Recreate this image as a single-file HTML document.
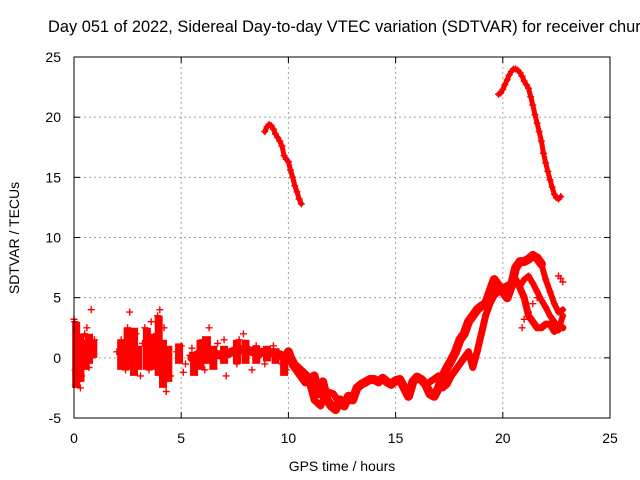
<!DOCTYPE html>
<html><head><meta charset="utf-8">
<style>
html,body{margin:0;padding:0;background:#fff;overflow:hidden;}
svg{display:block;font-family:"Liberation Sans",sans-serif;}
</style></head>
<body>
<svg id="chart" width="640" height="480" viewBox="0 0 640 480">
<text x="48" y="32" font-size="16.4" fill="#000">Day 051 of 2022, Sidereal Day-to-day VTEC variation (SDTVAR) for receiver churchill</text>
<g id="grid"></g>
<g id="ticks"></g>
<g id="marks"></g>
<rect x="74" y="57" width="536" height="361" fill="none" stroke="#000" stroke-width="1"/>
<text x="342" y="471" font-size="14" text-anchor="middle">GPS time / hours</text>
<text x="19" y="238" font-size="14" text-anchor="middle" transform="rotate(-90 19 238)">SDTVAR / TECUs</text>
</svg>
<script>
const xTicks=[0,5,10,15,20,25];
const yTicks=[-5,0,5,10,15,20,25];
const arc1T=[8.9,9.0,9.1,9.2,9.3,9.4,9.5,9.6,9.7,9.8,9.9,10.0,10.1,10.2,10.3,10.4,10.5,10.6];
const arc1V=[18.8,19.2,19.4,19.3,19.0,18.6,18.3,18.0,17.6,16.8,16.5,16.3,15.6,15.0,14.3,13.8,13.2,12.8];
const arc2T=[19.8,19.9,20.0,20.1,20.2,20.3,20.4,20.5,20.6,20.7,20.8,20.9,21.0,21.1,21.2,21.3,21.4,21.5,21.6,21.7,21.8,21.9,22.0,22.1,22.2,22.3,22.4,22.5,22.6,22.7];
const arc2V=[21.9,22.0,22.3,22.7,23.1,23.5,23.8,24.0,24.0,23.9,23.7,23.4,23.0,22.7,22.4,21.7,21.0,20.2,19.5,18.8,18.0,17.0,16.2,15.5,14.8,14.2,13.6,13.3,13.2,13.4];
const scatT=[0.0,0.03,0.05,0.15,0.25,0.35,0.45,0.55,0.65,0.75,0.85,0.95,0.6,0.8,0.3,0.5,0.2,0.4,0.7,0.9,
2.0,2.2,2.4,2.5,2.6,2.7,2.8,2.9,3.0,3.1,3.3,3.4,3.5,3.6,3.7,3.8,3.9,4.0,4.1,4.2,4.3,4.4,4.5,4.2,2.3,3.2,3.85,4.05,
4.8,5.0,5.2,5.4,5.6,5.8,6.0,6.1,6.2,6.3,6.5,6.7,6.9,7.1,7.3,7.5,7.7,7.9,8.1,8.3,8.5,8.7,8.9,9.1,9.3,9.5,9.7,9.9,5.1,5.5,6.4,7.0,7.6,8.0,8.6,9.0];
const scatV=[3.2,3.0,-1,-2,0,-1.5,1,-0.5,0.5,1.5,0,1.5,2.5,4,-2.5,2,-1,0.5,-0.8,1,
0.5,1.5,-1,2.5,3.8,1,-0.5,2,0,-1.5,2.5,0.5,-1,3,1.5,-0.5,3.5,4,1,-2,-2.8,0.5,-1.5,2.5,0,1.2,2,-1.2,
0.5,1,-0.5,0.2,-1,0.5,1.5,-1,0.5,2.5,-0.5,1.2,0,-1.5,0.5,0.8,1.5,2,0.5,-1,1,0.5,-0.5,0.5,1,0,-0.5,-1,-1.2,0.8,-0.2,1.5,-0.5,1.2,0,0.2];
const colT=[0.1,0.3,0.5,0.7,0.9,2.2,2.5,2.8,3.0,3.4,3.7,3.95,4.15,4.4,4.9,5.6,5.9,6.2,6.5,7.0,7.6,8.0,8.5,9.0,9.4,9.8];
const colLo=[-2.5,-2,-1,-0.5,0,-1,-1,-1.5,-1,-1,-1,-1.5,-2.5,-2,-0.5,-1.5,-1,-0.5,-1,-0.5,-0.5,-0.5,-0.5,-0.3,-0.5,-1.5];
const colHi=[3,2,1.5,2,1.5,1.5,2.5,2.5,1,2.5,2,3.5,1.5,1,1.2,0.5,1.5,1.8,1,1,1.5,1.5,1,1,0.8,0.5];
const s0T=[5.5,6.0,6.5,7.0,7.5,8.0,8.5,9.0,9.5,10.0];
const s0V=[0.0,0.5,0.3,0.2,0.6,0.7,0.4,0.5,0.3,0.0];
const s1T=[10.0,10.1,10.2,10.4,10.6,10.8,11.0,11.2,11.4,11.6,11.8,12.0,12.2,12.4,12.6,12.8,13.0,13.2,13.4,13.6,13.8,14.0,14.2,14.4,14.6,14.8,15.0,15.2,15.4,15.6,15.8,16.0,16.2,16.4,16.6,16.8,17.0,17.2,17.4,17.6,17.8,18.0,18.2,18.4,18.6,18.8,19.0,19.2,19.4,19.6,19.8,20.0,20.2,20.4,20.6,20.8,21.0,21.2,21.4,21.6,21.8];
const s1V=[0.5,0,-0.5,-1,-1.5,-2,-2,-1.5,-3,-2,-3.5,-4,-4.3,-3.5,-4,-3.2,-3.5,-2.5,-2.2,-2,-1.8,-1.8,-2.0,-1.7,-2,-2.2,-1.9,-1.8,-2.5,-3.2,-2.0,-1.6,-1.8,-2.2,-3,-3.2,-2.5,-1.5,-0.8,-0.2,0.5,1.5,2,3,3.5,4,4.3,4.5,5.5,6.5,6,5.5,5,6,7.5,8,8,8.2,8.5,8.3,7.8];
const s2T=[10.0,10.3,10.6,10.9,11.2,11.5,11.8,12.1,12.4];
const s2V=[0.5,-0.5,-1,-1.5,-3.5,-4,-2.8,-3,-3.8];
const s2bT=[16.6,17.0,17.2,17.4,17.6,17.8,18.0,18.2,18.4,18.6,18.8,19.0,19.2,19.4,19.6,19.8,20.0,20.2,20.4,20.6,20.8,21.0,21.2,21.4,21.6,21.8,22.0,22.2,22.4,22.6,22.8];
const s2bV=[-2.0,-1.5,-2.5,-2.2,-1.5,-1,-0.5,0,0.5,-0.8,0.5,2,3.5,4.5,5.2,5.5,5.8,6.0,6.2,6.5,5.8,5,3.5,3,2.5,2.5,2.8,2.8,2.2,2.5,2.5];
const s3T=[20.6,20.8,21.0,21.2,21.4,21.6,21.8,22.0,22.2,22.4,22.6,22.8];
const s3V=[6.5,6.0,6.5,6.8,6.2,5.5,4.8,4.2,3.5,3,2.3,3.5];
const s4T=[21.8,22.0,22.2,22.4,22.6,22.8];
const s4V=[7.8,6.5,5.5,4.5,3.8,4];
const s5T=[20.9,21.0,21.2,21.4,21.6,22.6,22.7,22.8];
const s5V=[2.5,3.2,3.8,4.5,5,6.8,6.6,6.3];

const X0=74,X1=610,Y0=418,Y1=57;
function sx(t){return X0+(t-0)/(25-0)*(X1-X0);}
function sy(v){return Y0-(v-(-5))/(25-(-5))*(Y0-Y1);}
const NS='http://www.w3.org/2000/svg';
const grid=document.getElementById('grid'),ticks=document.getElementById('ticks'),marks=document.getElementById('marks');
function mk(tag,attrs,parent){const e=document.createElementNS(NS,tag);for(const k in attrs)e.setAttribute(k,attrs[k]);parent.appendChild(e);return e;}
xTicks.forEach(t=>{
  const x=sx(t);
  if(t>0&&t<25){const g=mk('line',{x1:x,x2:x,y1:Y1,y2:Y0,stroke:'#a0a0a0','stroke-dasharray':'2,3','stroke-width':1},grid);
  
  }
  mk('line',{x1:x,x2:x,y1:Y0,y2:Y0-6,stroke:'#000'},ticks);
  mk('line',{x1:x,x2:x,y1:Y1,y2:Y1+6,stroke:'#000'},ticks);
  const l=mk('text',{x:x,y:Y0+25,'font-size':14,'text-anchor':'middle'},ticks);l.textContent=t;
  
  
});
yTicks.forEach(v=>{
  const y=sy(v);
  if(v>-5&&v<25){const g=mk('line',{x1:X0,x2:X1,y1:y,y2:y,stroke:'#a0a0a0','stroke-dasharray':'2,3','stroke-width':1},grid);
  
  }
  mk('line',{x1:X0,x2:X0+6,y1:y,y2:y,stroke:'#000'},ticks);
  mk('line',{x1:X1,x2:X1-6,y1:y,y2:y,stroke:'#000'},ticks);
  const l=mk('text',{x:X0-13,y:y+5,'font-size':14,'text-anchor':'end'},ticks);l.textContent=v;
  
  
});
function band(T,V,w,name){
  const pts=T.map((t,i)=>sx(t).toFixed(1)+','+sy(V[i]).toFixed(1)).join(' ');
  const p=mk('polyline',{points:pts,fill:'none',stroke:'#ff0000','stroke-width':w,'stroke-linejoin':'round','stroke-linecap':'round'},marks);
  
  
}
function pluses(T,V,name){
  let d='';
  T.forEach((t,i)=>{const x=sx(t),y=sy(V[i]);d+=`M${(x-3.5).toFixed(1)} ${y.toFixed(1)}h7M${x.toFixed(1)} ${(y-3.5).toFixed(1)}v7`;});
  const p=mk('path',{d:d,stroke:'#ff0000','stroke-width':1.4,fill:'none'},marks);
  
  
}
colT.forEach((t,i)=>{
  const r=mk('rect',{x:sx(t)-4,y:sy(colHi[i]),width:8,height:sy(colLo[i])-sy(colHi[i]),fill:'#ff0000'},marks);
  
  
});
band(s0T,s0V,9,'strand-0');
band(arc1T,arc1V,5,'arc-1');pluses(arc1T,arc1V,'arc-1-points');
band(arc2T,arc2V,5,'arc-2');pluses(arc2T,arc2V,'arc-2-points');
band(s1T,s1V,9,'strand-1');pluses(s1T,s1V,'strand-1-points');
band(s2T,s2V,7,'strand-2');pluses(s2T,s2V,'strand-2-points');
band(s2bT,s2bV,7,'strand-2b');pluses(s2bT,s2bV,'strand-2b-points');
band(s3T,s3V,6,'strand-3');pluses(s3T,s3V,'strand-3-points');
band(s4T,s4V,6,'strand-4');pluses(s4T,s4V,'strand-4-points');
pluses(s5T,s5V,'strand-5-points');
pluses(scatT,scatV,'scatter-points');
</script>
</body></html>
